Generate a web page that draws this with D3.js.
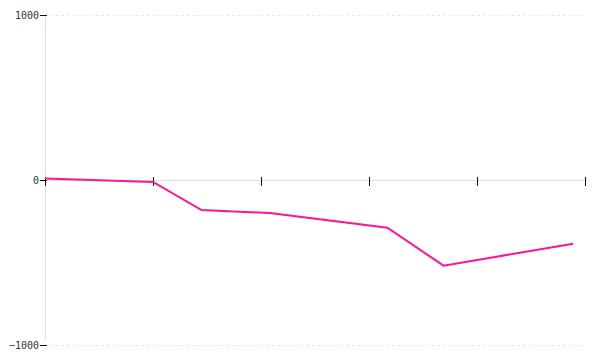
<!DOCTYPE html>
<html>
<head>
<meta charset="utf-8">
<script src="https://cdn.jsdelivr.net/npm/d3@7"></script>
<style>
  body { margin: 0; background: #fff; }
  svg { display: block; }
</style>
</head>
<body>
<div id="chart"></div>
<script>
// data
let xValues = [0, 1, 1.45, 2.08, 3.17, 3.69, 4.89];
let yValues = [9, -12, -182, -200, -289, -519, -386];
let yTicks = [-1000, 0, 1000];
let xTicks = [0, 1, 2, 3, 4, 5];

let width = 600;
let height = 360;
let margin = { top: 15, right: 15, bottom: 15, left: 45 };

let svg = d3.select('#chart')
    .append('svg')
    .attr('width', width)
    .attr('height', height);

let x = d3.scaleLinear()
    .domain([0, 5])
    .range([margin.left, width - margin.right]);

let y = d3.scaleLinear()
    .domain([-1000, 1000])
    .range([height - margin.bottom, margin.top]);

// dotted grid lines at top and bottom
svg.selectAll('line.grid')
    .data(yTicks.filter(d => d !== 0))
    .enter()
    .append('line')
    .attr('class', 'grid')
    .attr('x1', margin.left + 5)
    .attr('x2', width - margin.right)
    .attr('y1', d => y(d) + 0.5)
    .attr('y2', d => y(d) + 0.5)
    .style('stroke', '#e6e6e6')
    .style('stroke-dasharray', '2.5,3.2');

// vertical axis line
svg.append('line')
    .attr('x1', margin.left + 0.5)
    .attr('x2', margin.left + 0.5)
    .attr('y1', y(1000) + 2)
    .attr('y2', y(-1000) - 5)
    .style('stroke', '#dddddd');

// zero line
svg.append('line')
    .attr('x1', margin.left)
    .attr('x2', width - margin.right)
    .attr('y1', y(0) + 0.5)
    .attr('y2', y(0) + 0.5)
    .style('stroke', '#dddddd');

// y axis ticks + labels
let yAxis = svg.append('g')
    .attr('transform', 'translate(' + margin.left + ',0)')
    .call(d3.axisLeft(y).tickValues(yTicks).tickSize(6).tickFormat(d3.format('d')));
yAxis.select('.domain').remove();
yAxis.selectAll('.tick line')
    .attr('x1', 2)
    .attr('x2', -5)
    .attr('stroke', '#111');
yAxis.selectAll('.tick text')
    .attr('x', -6)
    .style('font-family', '"DejaVu Sans Mono", monospace')
    .style('font-size', '10px')
    .style('fill', '#333');

// x axis ticks, no labels
let xAxis = svg.append('g')
    .attr('transform', 'translate(0,' + y(0) + ')')
    .call(d3.axisBottom(x).tickValues(xTicks).tickSize(6).tickFormat(''));
xAxis.select('.domain').remove();
xAxis.selectAll('.tick line')
    .attr('y1', -3)
    .attr('y2', 6)
    .attr('stroke', '#111');

// the series
let points = xValues.map((d, i) => [d, yValues[i]]);
let line = d3.line()
    .x(d => x(d[0]))
    .y(d => y(d[1]));

svg.append('path')
    .datum(points)
    .attr('d', line)
    .style('fill', 'none')
    .style('stroke', '#ff1493')
    .style('stroke-width', 2);
</script>
</body>
</html>
